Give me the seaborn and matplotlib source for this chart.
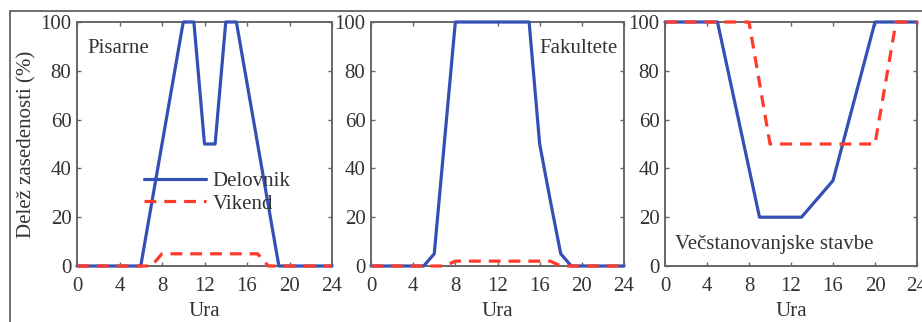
import numpy as np
import pandas as pd
import matplotlib.pyplot as plt
import seaborn as sns
from matplotlib.patches import Rectangle

sns.set_theme(style="white")
plt.rcParams['font.family'] = ['Liberation Serif', 'DejaVu Serif']

# hourly occupancy profiles (0..24 h)
hours = list(range(25))
pisarne_delovnik = [0, 0, 0, 0, 0, 0, 0, 25, 50, 75, 100, 100, 50, 50, 100, 100,
                    75, 50, 25, 0, 0, 0, 0, 0, 0]
pisarne_vikend = [0, 0, 0, 0, 0, 0, 0, 0, 5, 5, 5, 5, 5, 5, 5, 5,
                  5, 5, 0, 0, 0, 0, 0, 0, 0]
fakultete_delovnik = [0, 0, 0, 0, 0, 0, 5, 52.5, 100, 100, 100, 100, 100, 100, 100, 100,
                      50, 27, 5, 0, 0, 0, 0, 0, 0]
fakultete_vikend = [0, 0, 0, 0, 0, 0, 0, 0, 2, 2, 2, 2, 2, 2, 2, 2,
                    2, 2, 0, 0, 0, 0, 0, 0, 0]
stavbe_delovnik = [100, 100, 100, 100, 100, 100, 80, 60, 40, 20, 20, 20, 20, 20, 25, 30,
                   35, 51.25, 67.5, 83.75, 100, 100, 100, 100, 100]
stavbe_vikend = [100, 100, 100, 100, 100, 100, 100, 100, 100, 75, 50, 50, 50, 50, 50, 50,
                 50, 50, 50, 50, 50, 75, 100, 100, 100]

panel_names = ["Pisarne", "Fakultete", "Večstanovanjske stavbe"]
series = [(pisarne_delovnik, pisarne_vikend),
          (fakultete_delovnik, fakultete_vikend),
          (stavbe_delovnik, stavbe_vikend)]

blue = "#3350b4"
red = "#ff3a2a"
spine_c = "#666666"
text_c = "#333333"
fs = 15

W, H = 922, 322
fig = plt.figure(figsize=(W / 100, H / 100), dpi=100)

# panel extents in pixels (left, right)
extents = [(77, 332), (371, 624), (665, 917)]
top, bottom = 22, 266

axes = []
for (l, r) in extents:
    ax = fig.add_axes([l / W, 1 - bottom / H, (r - l) / W, (bottom - top) / H])
    axes.append(ax)

for i, ax in enumerate(axes):
    d, v = series[i]
    df = pd.DataFrame({"Ura": hours, "Delovnik": d, "Vikend": v})
    sns.lineplot(data=df, x="Ura", y="Delovnik", ax=ax, color=blue, lw=2.3,
                 label="Delovnik", clip_on=False, zorder=3)
    sns.lineplot(data=df, x="Ura", y="Vikend", ax=ax, color=red, lw=2.3,
                 label="Vikend", clip_on=False, zorder=4)
    ax.lines[1].set_linestyle((0, (3.7, 2.5)))
    ax.set_xlim(0, 24)
    ax.set_ylim(0, 100)
    ax.set_xticks(range(0, 25, 4))
    ax.set_yticks(range(0, 101, 20))
    ax.tick_params(direction="in", length=3, width=1, colors=spine_c,
                   labelcolor=text_c, labelsize=fs, top=True, right=True,
                   bottom=True, left=True)
    ax.tick_params(axis="x", pad=8)
    ax.tick_params(axis="y", pad=4)
    for s in ax.spines.values():
        s.set_color(spine_c)
        s.set_linewidth(1.4)
    ax.set_xlabel("Ura", fontsize=fs, color=text_c, labelpad=4.5)
    ax.set_ylabel("")
    if i == 0:
        ax.legend(loc="upper left", bbox_to_anchor=(0.22, 0.43), frameon=False,
                  fontsize=fs, handlelength=3.0, handletextpad=0.3,
                  labelspacing=0.15, borderpad=0)
        for t in ax.get_legend().get_texts():
            t.set_color(text_c)
        ax.set_ylabel("Delež zasedenosti (%)", fontsize=fs, color=text_c, labelpad=3)
    else:
        ax.get_legend().remove()

axes[0].text(0.04, 0.93, panel_names[0], transform=axes[0].transAxes,
             ha="left", va="top", fontsize=fs, color=text_c)
axes[1].text(0.975, 0.93, panel_names[1], transform=axes[1].transAxes,
             ha="right", va="top", fontsize=fs, color=text_c)
axes[2].text(0.04, 0.05, panel_names[2], transform=axes[2].transAxes,
             ha="left", va="bottom", fontsize=fs, color=text_c,
             bbox=dict(facecolor="white", edgecolor="none", pad=1))

# outer frame of the figure
fig.patches.append(Rectangle((10 / W, -0.1), 1.2, 1.1 - 11 / H,
                             transform=fig.transFigure, fill=False,
                             edgecolor="#555555", lw=1.2))

fig.savefig("out.png", dpi=100)
